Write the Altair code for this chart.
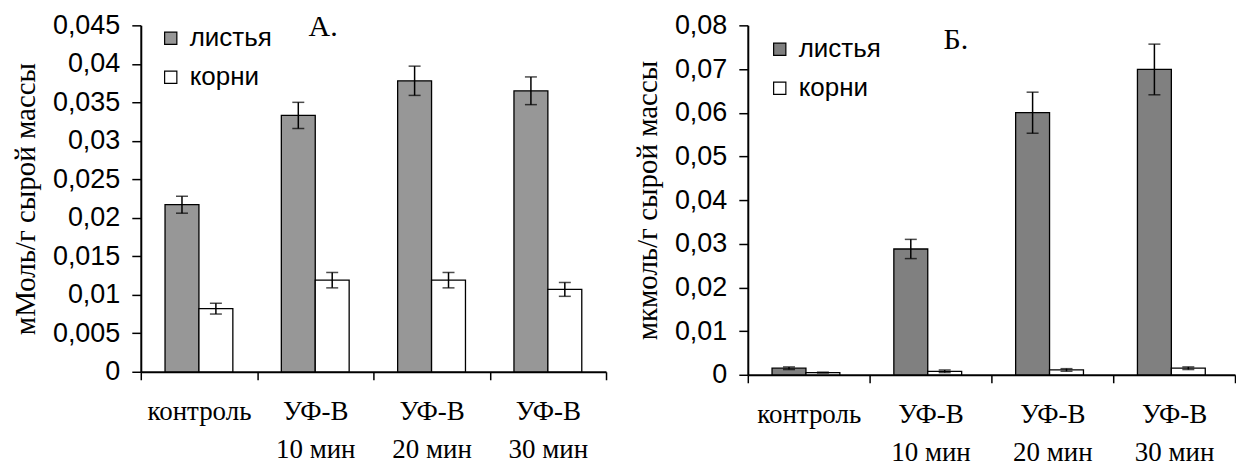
import altair as alt
import pandas as pd

categories = ["контроль", "УФ-В\n10 мин", "УФ-В\n20 мин", "УФ-В\n30 мин"]
series = ["листья", "корни"]

A_leaves = [0.0217, 0.0333, 0.0378, 0.0365]
A_leaves_err = [0.0011, 0.0017, 0.0019, 0.0018]
A_roots = [0.0082, 0.0119, 0.0119, 0.0107]
A_roots_err = [0.0007, 0.0010, 0.0010, 0.0009]

B_leaves = [0.0015, 0.0288, 0.0600, 0.0699]
B_leaves_err = [0.0003, 0.0022, 0.0047, 0.0058]
B_roots = [0.0005, 0.0008, 0.0011, 0.0015]
B_roots_err = [0.0001, 0.0003, 0.0003, 0.0003]

A_ticks = [0, 0.005, 0.01, 0.015, 0.02, 0.025, 0.03, 0.035, 0.04, 0.045]
B_ticks = [0, 0.01, 0.02, 0.03, 0.04, 0.05, 0.06, 0.07, 0.08]


def make_df(leaves, leaves_err, roots, roots_err):
    rows = []
    for i, c in enumerate(categories):
        rows.append(dict(cat=c, s=series[0], v=leaves[i], lo=leaves[i] - leaves_err[i], hi=leaves[i] + leaves_err[i]))
        rows.append(dict(cat=c, s=series[1], v=roots[i], lo=roots[i] - roots_err[i], hi=roots[i] + roots_err[i]))
    return pd.DataFrame(rows)


def panel(df, ymax, ticks, ytitle, fill_grey, w, h, offpad, letter, letter_x, letter_y, legx, legy):
    x = alt.X("cat:N", sort=categories, scale=alt.Scale(paddingInner=0, paddingOuter=0),
              axis=alt.Axis(title=None, tickBand="extent", labelAngle=0, tickSize=8,
                            labelExpr="split(datum.label, '\\n')", labelLineHeight=38,
                            labelFont="Liberation Serif", labelFontSize=27, labelPadding=19,
                            labelColor="black"))
    xoff = alt.XOffset("s:N", sort=series, scale=alt.Scale(paddingInner=0, paddingOuter=offpad))
    yscale = alt.Scale(domain=[0, ymax], nice=False)
    yax = alt.Axis(title=ytitle, values=ticks, tickSize=9, labelOverlap=False,
                   labelExpr="replace(format(datum.value, '.3~f'), '.', ',')",
                   labelFont="Liberation Sans", labelFontSize=27, labelColor="black",
                   labelPadding=12,
                   titleFont="Liberation Serif", titleFontSize=29, titleFontWeight="normal",
                   titleColor="black", titlePadding=12)
    base = alt.Chart(df)
    bars = base.mark_bar(stroke="black", strokeWidth=1.3).encode(
        x=x, xOffset=xoff, y=alt.Y("v:Q", scale=yscale, axis=yax),
        fill=alt.Fill("s:N", sort=series,
                      scale=alt.Scale(domain=series, range=[fill_grey, "white"]),
                      legend=alt.Legend(title=None, orient="none", legendX=legx, legendY=legy,
                                        padding=0,
                                        symbolType="square", symbolSize=150,
                                        symbolStrokeColor="black", symbolStrokeWidth=1.2,
                                        labelFont="Liberation Sans", labelFontSize=26,
                                        labelColor="black", rowPadding=13, labelOffset=6)))
    rule = base.mark_rule(color="black", strokeWidth=1.5).encode(
        x=x, xOffset=xoff, y=alt.Y("lo:Q", scale=yscale, axis=yax), y2="hi:Q")
    cap_lo = base.mark_tick(color="black", thickness=1.5, size=12, orient="horizontal").encode(
        x=x, xOffset=xoff, y=alt.Y("lo:Q", scale=yscale, axis=yax))
    cap_hi = base.mark_tick(color="black", thickness=1.5, size=12, orient="horizontal").encode(
        x=x, xOffset=xoff, y=alt.Y("hi:Q", scale=yscale, axis=yax))
    label = alt.Chart(pd.DataFrame({"t": [letter]})).mark_text(
        font="Liberation Serif", fontSize=30, color="black", align="left", baseline="middle"
    ).encode(text="t:N", x=alt.value(letter_x), y=alt.value(letter_y))
    return alt.layer(bars, rule, cap_lo, cap_hi, label).properties(width=w, height=h)


dfA = make_df(A_leaves, A_leaves_err, A_roots, A_roots_err)
dfB = make_df(B_leaves, B_leaves_err, B_roots, B_roots_err)

left = panel(dfA, 0.045, A_ticks, "мМоль/г сырой массы", "#979797", 466, 347, 0.715,
             "А.", 168, 2, 17, 0)
right = panel(dfB, 0.08, B_ticks, "мкмоль/г сырой массы", "#808080", 488, 350, 0.745,
              "Б.", 196, 15, 19, 11)

chart = alt.hconcat(left, right, spacing=26).resolve_scale(
    fill="independent", y="independent", x="independent"
).resolve_legend(fill="independent").configure_axis(
    domainColor="black", domainWidth=2, tickColor="black", tickWidth=1.5, grid=False
).configure_view(stroke=None).properties(
    padding={"left": 3, "top": 3, "right": 0, "bottom": 0}
)

chart.save("out.html", embed_options={"renderer": "svg", "actions": False})
